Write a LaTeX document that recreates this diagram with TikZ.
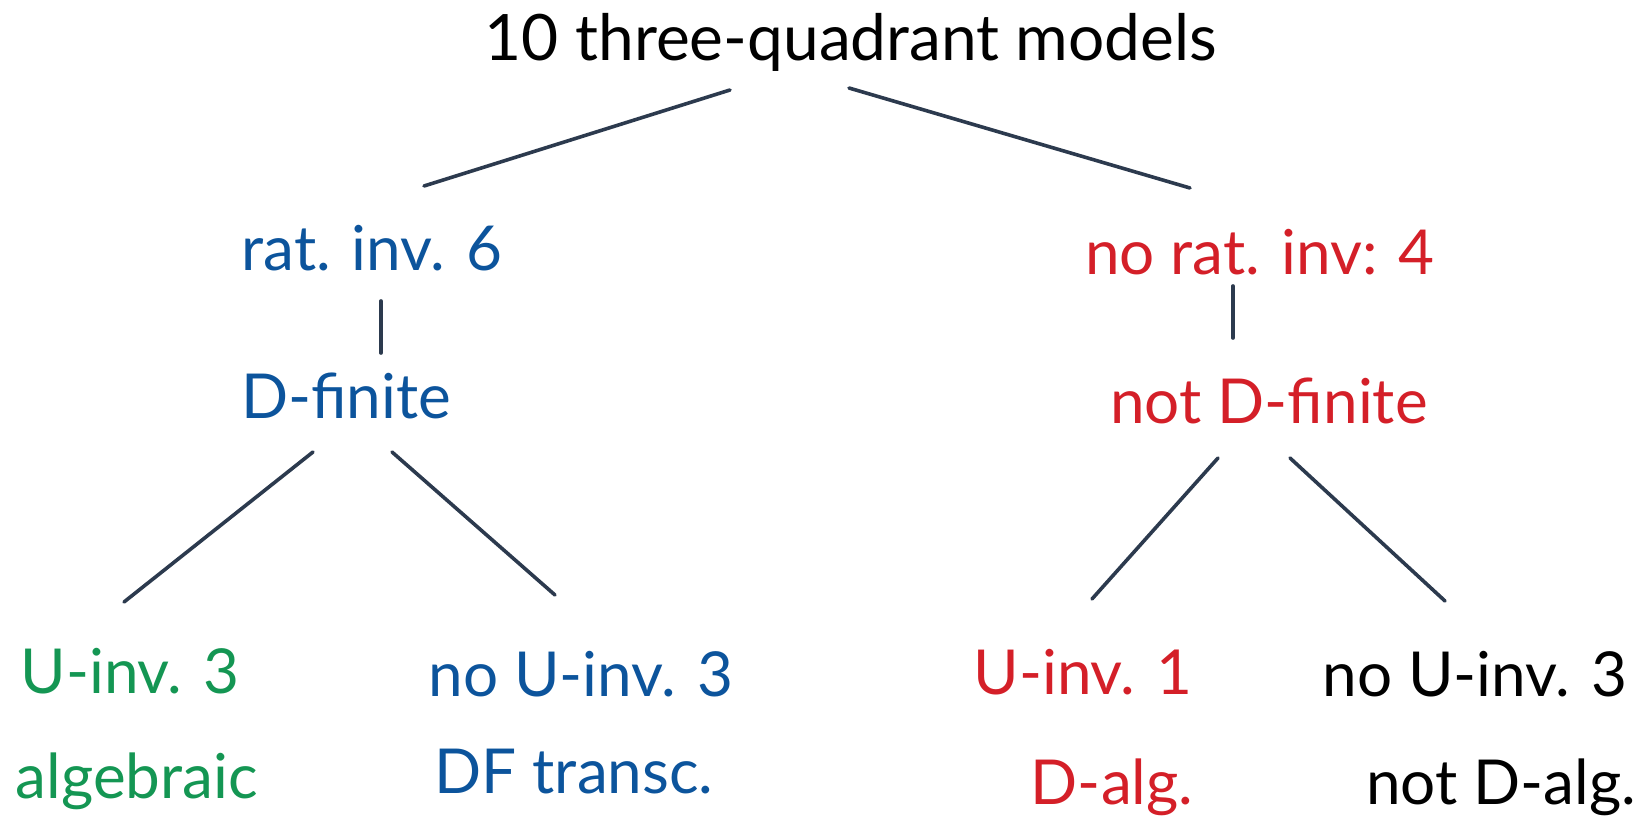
\documentclass[tikz,border=0pt]{standalone}
\usepackage{fontspec}
\setmainfont{Lato}
\definecolor{inkblue}{HTML}{0C549C}
\definecolor{inkred}{HTML}{D41F28}
\definecolor{inkgreen}{HTML}{149653}
\definecolor{edge}{HTML}{2C3A4E}
\tikzset{
  lbl/.style={anchor=base, inner sep=0pt, font=\fontsize{62}{70}\selectfont},
  branch/.style={draw=edge, line width=3.6pt, line cap=round}
}
\begin{document}
\begin{tikzpicture}[x=1pt, y=-1pt]
\useasboundingbox (0,0) rectangle (1647,821);

% labels
\node[lbl, font=\fontsize{64}{72}\selectfont] (root) at (851,61) {10 three-quadrant models};
\node[lbl, text=inkblue] (rat) at (372,270) {rat. inv. 6};
\node[lbl, text=inkred] (norat) at (1260,275) {no rat. inv: 4};
\node[lbl, text=inkblue] (df) at (346,418) {D-finite};
\node[lbl, text=inkred] (ndf) at (1269,423) {not D-finite};
\node[lbl, text=inkgreen] (uinvA) at (130,693) {U-inv. 3};
\node[lbl, text=inkblue] (nouinvA) at (581,696) {no U-inv. 3};
\node[lbl, text=inkred] (uinvB) at (1083,694) {U-inv. 1};
\node[lbl] (nouinvB) at (1475,696) {no U-inv. 3};
\node[lbl, text=inkgreen] (alg) at (137,798) {algebraic};
\node[lbl, text=inkblue] (dft) at (574,793) {DF transc.};
\node[lbl, text=inkred] (dalg) at (1112,804) {D-alg.};
\node[lbl] (ndalg) at (1501,804) {not D-alg.};

% end points of the branches
\coordinate (r1) at (730,90);   \coordinate (r2) at (424,186);
\coordinate (r3) at (849,88);   \coordinate (r4) at (1190,188);
\coordinate (l1) at (381,301);  \coordinate (l2) at (381,353);
\coordinate (m1) at (1233,286); \coordinate (m2) at (1233,338);
\coordinate (a1) at (313,452);  \coordinate (a2) at (124,602);
\coordinate (b1) at (392,452);  \coordinate (b2) at (555,595);
\coordinate (c1) at (1218,458); \coordinate (c2) at (1092,599);
\coordinate (d1) at (1290,458); \coordinate (d2) at (1445,601);

% branches
\draw[branch] (r1) -- (r2);
\draw[branch] (r3) -- (r4);
\draw[branch] (l1) -- (l2);
\draw[branch] (m1) -- (m2);
\draw[branch] (a1) -- (a2);
\draw[branch] (b1) -- (b2);
\draw[branch] (c1) -- (c2);
\draw[branch] (d1) -- (d2);
\end{tikzpicture}
\end{document}
